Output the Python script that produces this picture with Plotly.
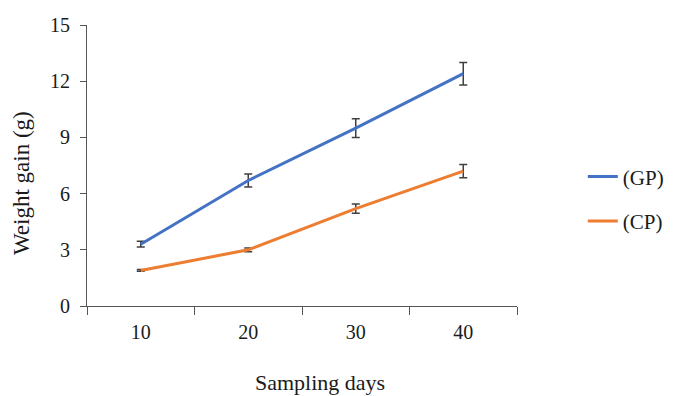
import plotly.graph_objects as go

days = ["10", "20", "30", "40"]
gp_values = [3.3, 6.7, 9.5, 12.4]
gp_errors = [0.15, 0.35, 0.5, 0.6]
cp_values = [1.9, 3.0, 5.2, 7.2]
cp_errors = [0.05, 0.1, 0.25, 0.35]
y_ticks = [0, 3, 6, 9, 12, 15]
x_title = "Sampling days"
y_title = "Weight gain (g)"

font_family = "Liberation Serif"
txt = "#1a1a1a"

fig = go.Figure()
fig.add_trace(go.Scatter(
    x=days, y=gp_values, name="(GP)", mode="lines",
    line=dict(color="#4472C4", width=3),
    error_y=dict(type="data", array=gp_errors, color="#404040", thickness=1.5, width=4),
    legendgroup="gp",
))
fig.add_trace(go.Scatter(
    x=days, y=cp_values, name="(CP)", mode="lines",
    line=dict(color="#ED7D31", width=3),
    error_y=dict(type="data", array=cp_errors, color="#404040", thickness=1.5, width=4),
    legendgroup="cp",
))

# page body has an 8px margin, so the figure is sized/offset to compensate
fig.update_layout(
    width=671, height=388,
    margin=dict(l=79, r=162, t=17, b=90, autoexpand=False),
    paper_bgcolor="white", plot_bgcolor="white",
    font=dict(family=font_family, size=20, color=txt),
    showlegend=True,
    legend=dict(
        x=1.153, y=0.381, xanchor="left", yanchor="middle",
        font=dict(family=font_family, size=21, color=txt),
        tracegroupgap=14, itemwidth=30,
        bgcolor="rgba(0,0,0,0)",
    ),
    xaxis=dict(
        type="category", range=[-0.5, 3.5], automargin=False,
        tickson="boundaries", ticks="outside", ticklen=8, tickcolor="#555555",
        ticklabelstandoff=8,
        showline=True, linecolor="#555555", linewidth=1,
        showgrid=False, zeroline=False,
        tickfont=dict(family=font_family, size=20, color=txt),
    ),
    yaxis=dict(
        range=[0, 15], tickvals=y_ticks, automargin=False,
        ticks="outside", ticklen=6, tickcolor="#555555",
        ticklabelstandoff=6,
        showline=True, linecolor="#555555", linewidth=1,
        showgrid=False, zeroline=False,
        tickfont=dict(family=font_family, size=20, color=txt),
    ),
    annotations=[
        dict(text=x_title, xref="paper", yref="paper", x=0.542, y=-0.274,
             xanchor="center", yanchor="middle", showarrow=False,
             font=dict(family=font_family, size=22, color=txt)),
        dict(text=y_title, xref="paper", yref="paper", x=-0.151, y=0.438,
             xanchor="center", yanchor="middle", showarrow=False, textangle=-90,
             font=dict(family=font_family, size=23, color=txt)),
    ],
)

fig.write_html("out.html")
